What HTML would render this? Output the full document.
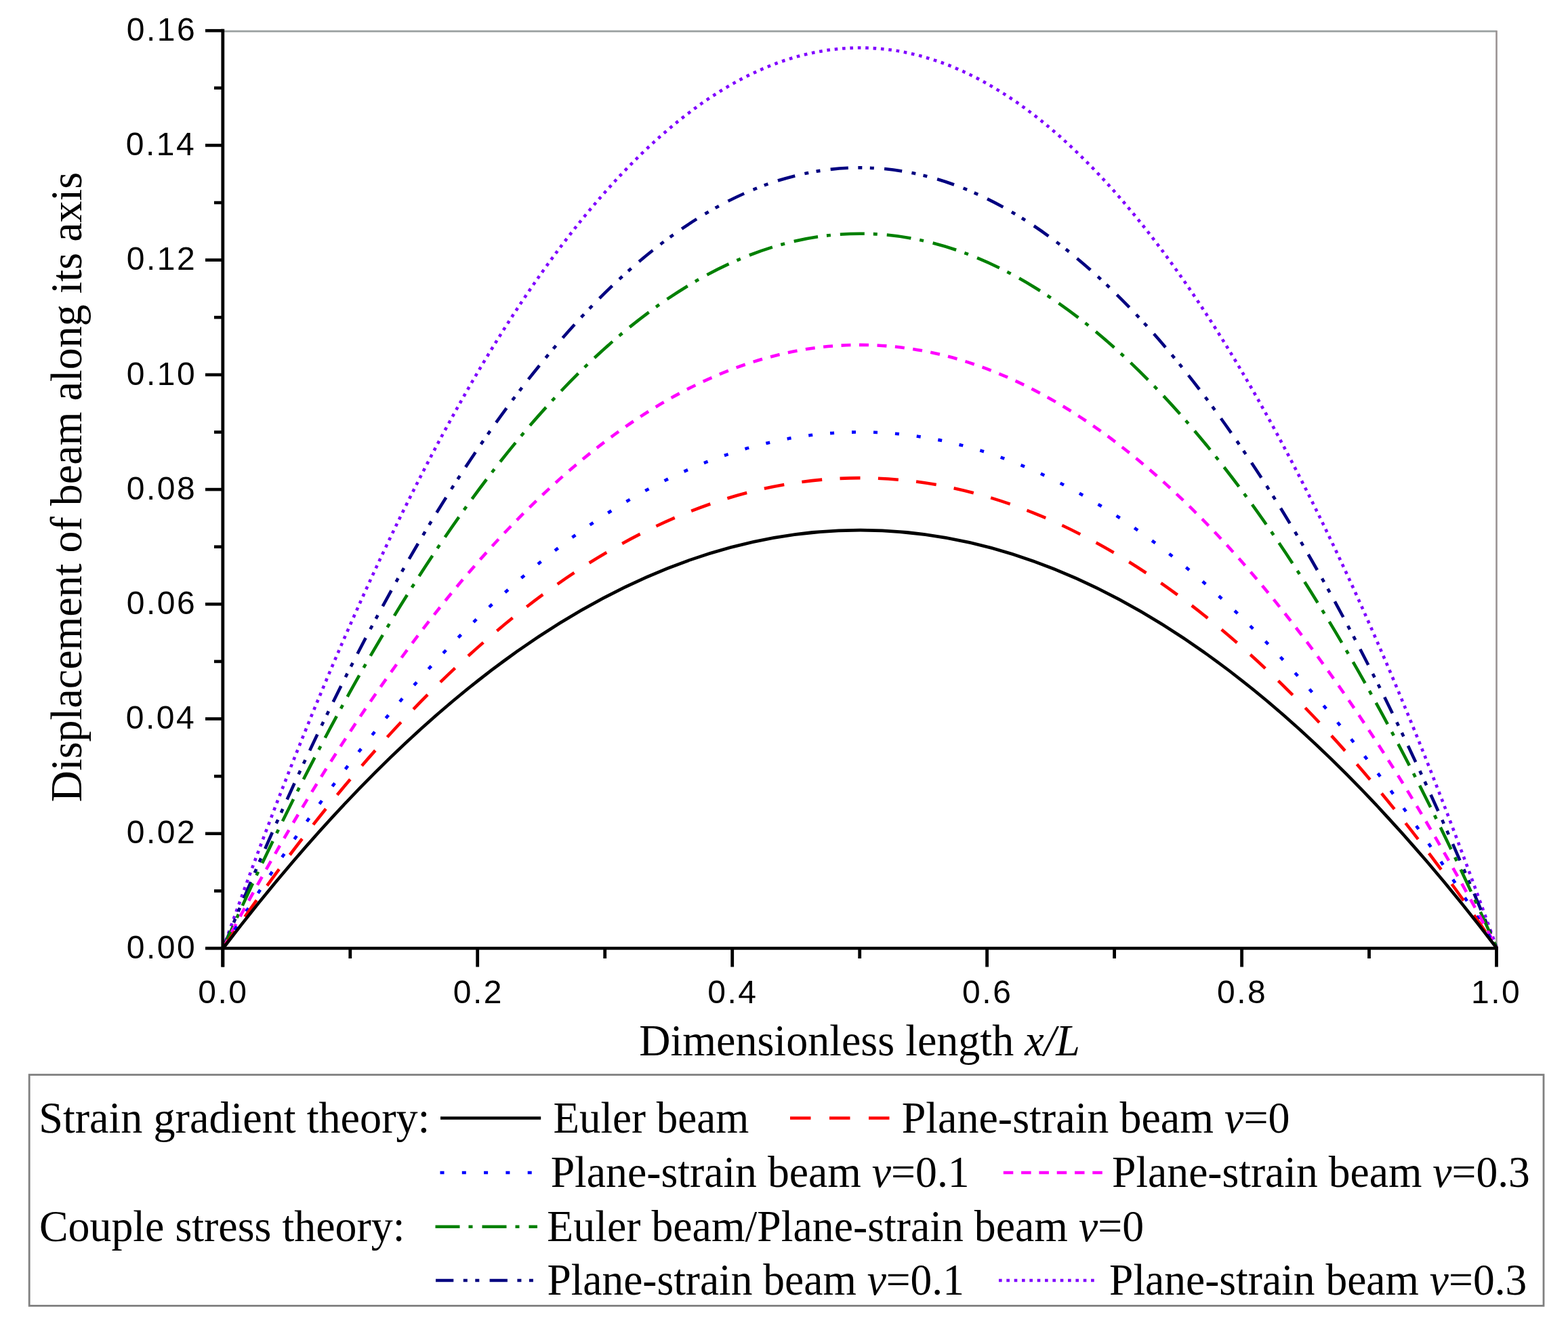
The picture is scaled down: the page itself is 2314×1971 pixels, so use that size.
<!DOCTYPE html>
<html><head><meta charset="utf-8"><title>Displacement of beam along its axis</title>
<style>
html,body{margin:0;padding:0;background:#fff;overflow:hidden;}
svg{display:block;}
.tk{font-family:"Liberation Sans",Arial,sans-serif;font-size:48.0px;letter-spacing:2.5px;fill:#000;}
.tt{font-family:"Liberation Serif","Times New Roman",serif;font-size:66.0px;fill:#000;}
.it{font-style:italic;}
</style></head><body>
<svg width="2314" height="1971" viewBox="0 0 2314 1971">
<rect x="0" y="0" width="2314" height="1971" fill="#fff"/>
<line x1="328.8" y1="46.1" x2="2208.5" y2="46.1" stroke="#9aa0a0" stroke-width="2.6"/>
<line x1="2208.5" y1="45" x2="2208.5" y2="1399.0" stroke="#9a9393" stroke-width="2.6"/>
<path d="M329.3,1399.0 Q1269.2,-1257.9 2209.0,1399.0" fill="none" stroke="#8000ff" stroke-width="4.6" stroke-dasharray="4.6 6.8"/>
<path d="M329.3,1399.0 Q1269.2,-904.2 2209.0,1399.0" fill="none" stroke="#000080" stroke-width="4.6" stroke-dasharray="26.3 14.5 6 11.5 6 15.3"/>
<path d="M329.3,1399.0 Q1269.2,-709.6 2209.0,1399.0" fill="none" stroke="#008000" stroke-width="4.6" stroke-dasharray="36 13 6 14"/>
<path d="M329.3,1399.0 Q1269.2,-381.3 2209.0,1399.0" fill="none" stroke="#ff00ff" stroke-width="4.6" stroke-dasharray="14 12.5"/>
<path d="M329.3,1399.0 Q1269.2,-124.1 2209.0,1399.0" fill="none" stroke="#0000ff" stroke-width="4.6" stroke-dasharray="6 26"/>
<path d="M329.3,1399.0 Q1269.2,11.3 2209.0,1399.0" fill="none" stroke="#ff0000" stroke-width="4.6" stroke-dasharray="30 26.4"/>
<path d="M329.3,1399.0 Q1269.2,165.3 2209.0,1399.0" fill="none" stroke="#000000" stroke-width="4.6"/>
<line x1="328.8" y1="42.8" x2="328.8" y2="1426.5" stroke="#000" stroke-width="4.8"/>
<line x1="326.40000000000003" y1="1399.0" x2="2210.9" y2="1399.0" stroke="#000" stroke-width="4.6"/>
<line x1="303" y1="1399.0" x2="328.8" y2="1399.0" stroke="#000" stroke-width="4.6"/>
<line x1="316" y1="1314.4" x2="328.8" y2="1314.4" stroke="#000" stroke-width="4.6"/>
<line x1="303" y1="1229.8" x2="328.8" y2="1229.8" stroke="#000" stroke-width="4.6"/>
<line x1="316" y1="1145.2" x2="328.8" y2="1145.2" stroke="#000" stroke-width="4.6"/>
<line x1="303" y1="1060.5" x2="328.8" y2="1060.5" stroke="#000" stroke-width="4.6"/>
<line x1="316" y1="975.9" x2="328.8" y2="975.9" stroke="#000" stroke-width="4.6"/>
<line x1="303" y1="891.3" x2="328.8" y2="891.3" stroke="#000" stroke-width="4.6"/>
<line x1="316" y1="806.7" x2="328.8" y2="806.7" stroke="#000" stroke-width="4.6"/>
<line x1="303" y1="722.1" x2="328.8" y2="722.1" stroke="#000" stroke-width="4.6"/>
<line x1="316" y1="637.5" x2="328.8" y2="637.5" stroke="#000" stroke-width="4.6"/>
<line x1="303" y1="552.9" x2="328.8" y2="552.9" stroke="#000" stroke-width="4.6"/>
<line x1="316" y1="468.2" x2="328.8" y2="468.2" stroke="#000" stroke-width="4.6"/>
<line x1="303" y1="383.6" x2="328.8" y2="383.6" stroke="#000" stroke-width="4.6"/>
<line x1="316" y1="299.0" x2="328.8" y2="299.0" stroke="#000" stroke-width="4.6"/>
<line x1="303" y1="214.4" x2="328.8" y2="214.4" stroke="#000" stroke-width="4.6"/>
<line x1="316" y1="129.8" x2="328.8" y2="129.8" stroke="#000" stroke-width="4.6"/>
<line x1="303" y1="45.2" x2="328.8" y2="45.2" stroke="#000" stroke-width="4.6"/>
<line x1="328.8" y1="1399.0" x2="328.8" y2="1426.5" stroke="#000" stroke-width="4.8"/>
<line x1="516.8" y1="1399.0" x2="516.8" y2="1414" stroke="#000" stroke-width="4.8"/>
<line x1="704.7" y1="1399.0" x2="704.7" y2="1426.5" stroke="#000" stroke-width="4.8"/>
<line x1="892.7" y1="1399.0" x2="892.7" y2="1414" stroke="#000" stroke-width="4.8"/>
<line x1="1080.7" y1="1399.0" x2="1080.7" y2="1426.5" stroke="#000" stroke-width="4.8"/>
<line x1="1268.7" y1="1399.0" x2="1268.7" y2="1414" stroke="#000" stroke-width="4.8"/>
<line x1="1456.6" y1="1399.0" x2="1456.6" y2="1426.5" stroke="#000" stroke-width="4.8"/>
<line x1="1644.6" y1="1399.0" x2="1644.6" y2="1414" stroke="#000" stroke-width="4.8"/>
<line x1="1832.6" y1="1399.0" x2="1832.6" y2="1426.5" stroke="#000" stroke-width="4.8"/>
<line x1="2020.5" y1="1399.0" x2="2020.5" y2="1414" stroke="#000" stroke-width="4.8"/>
<line x1="2208.5" y1="1399.0" x2="2208.5" y2="1426.5" stroke="#000" stroke-width="4.8"/>
<text class="tk" transform="translate(186.80,1413.70)">0.00</text>
<text class="tk" transform="translate(186.80,1244.47)">0.02</text>
<text class="tk" transform="translate(185.80,1075.24)">0.04</text>
<text class="tk" transform="translate(186.80,906.01)">0.06</text>
<text class="tk" transform="translate(186.80,736.78)">0.08</text>
<text class="tk" transform="translate(186.80,567.55)">0.10</text>
<text class="tk" transform="translate(186.80,398.32)">0.12</text>
<text class="tk" transform="translate(185.80,229.09)">0.14</text>
<text class="tk" transform="translate(186.80,59.86)">0.16</text>
<text class="tk" transform="translate(292.30,1480.30)">0.0</text>
<text class="tk" transform="translate(668.74,1480.30)">0.2</text>
<text class="tk" transform="translate(1044.18,1480.30)">0.4</text>
<text class="tk" transform="translate(1420.12,1480.30)">0.6</text>
<text class="tk" transform="translate(1796.06,1480.30)">0.8</text>
<text class="tk" transform="translate(2171.00,1480.30)">1.0</text>
<text class="tt" transform="translate(943.26,1557.40) scale(0.9700,1)">Dimensionless length <tspan class="it">x/L</tspan></text>
<text class="tt" transform="translate(57.21,1670.80) scale(0.9721,1)">Strain gradient theory:</text>
<text class="tt" transform="translate(816.49,1670.80) scale(0.9552,1)">Euler beam</text>
<text class="tt" transform="translate(1330.66,1670.80) scale(0.9701,1)">Plane-strain beam <tspan class="it">ν</tspan>=0</text>
<text class="tt" transform="translate(812.67,1751.30) scale(0.9655,1)">Plane-strain beam <tspan class="it">ν</tspan>=0.1</text>
<text class="tt" transform="translate(1641.07,1751.30) scale(0.9638,1)">Plane-strain beam <tspan class="it">ν</tspan>=0.3</text>
<text class="tt" transform="translate(57.90,1831.00) scale(0.9683,1)">Couple stress theory:</text>
<text class="tt" transform="translate(807.37,1831.00) scale(0.9665,1)">Euler beam/Plane-strain beam <tspan class="it">ν</tspan>=0</text>
<text class="tt" transform="translate(807.38,1910.30) scale(0.9617,1)">Plane-strain beam <tspan class="it">ν</tspan>=0.1</text>
<text class="tt" transform="translate(1637.07,1910.30) scale(0.9629,1)">Plane-strain beam <tspan class="it">ν</tspan>=0.3</text>
<text class="tt" transform="translate(120,1183.34) rotate(-90) scale(0.9700,1)">Displacement of beam along its axis</text>
<rect x="43.2" y="1585.6" width="2234.8" height="340.8" fill="none" stroke="#808080" stroke-width="2.8"/>
<line x1="650" y1="1649.5" x2="798.2" y2="1649.5" stroke="#000" stroke-width="4.6"/>
<line x1="1166" y1="1649.5" x2="1313.8" y2="1649.5" stroke="#ff0000" stroke-width="4.6" stroke-dasharray="30.5 27.5"/>
<line x1="649.5" y1="1730.0" x2="786" y2="1730.0" stroke="#0000ff" stroke-width="4.6" stroke-dasharray="6 26.3"/>
<line x1="1480.8" y1="1730.0" x2="1627.5" y2="1730.0" stroke="#ff00ff" stroke-width="4.6" stroke-dasharray="14.5 11.8"/>
<line x1="642.5" y1="1809.7" x2="793" y2="1809.7" stroke="#008000" stroke-width="4.6" stroke-dasharray="36 13 6 14"/>
<line x1="643" y1="1889.0" x2="790" y2="1889.0" stroke="#000080" stroke-width="4.6" stroke-dasharray="26.3 14.5 6 11.5 6 15.3"/>
<line x1="1474" y1="1889.0" x2="1616" y2="1889.0" stroke="#8000ff" stroke-width="4.6" stroke-dasharray="4.6 6.74"/>
</svg>
</body></html>
